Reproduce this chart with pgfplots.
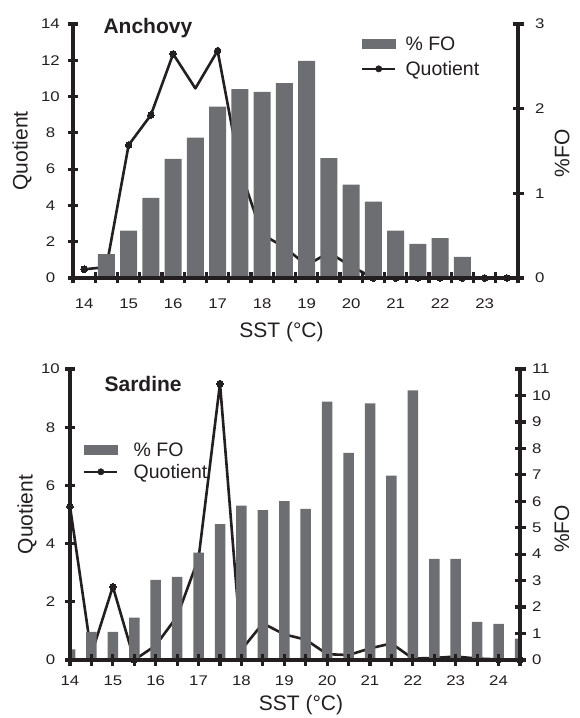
\documentclass[border=0pt]{standalone}
\usepackage{fontspec}
\setmainfont{Liberation Sans}
\newfontfamily\tickfont[FakeStretch=1.2]{Liberation Sans}
\usepackage{pgfplots}
\usepackage{pgfplotstable}
\pgfplotsset{compat=1.18}

\definecolor{bargray}{RGB}{109,110,113}
\definecolor{inkblack}{RGB}{35,31,32}

% SST class (deg C), frequency of occurrence (%), quotient
\pgfplotstableread{
sst  fo    quot
14.0 0.000 0.48
14.5 0.283 0.60
15.0 0.559 7.33
15.5 0.945 8.98
16.0 1.406 12.35
16.5 1.657 10.45
17.0 2.024 12.53
17.5 2.232 6.00
18.0 2.197 2.40
18.5 2.303 1.70
19.0 2.563 0.70
19.5 1.417 1.40
20.0 1.102 0.65
20.5 0.902 0.00
21.0 0.559 0.00
21.5 0.402 0.00
22.0 0.472 0.00
22.5 0.248 0.00
23.0 0.000 0.00
23.5 0.000 0.00
}\anchovy

\pgfplotstableread{
sst  fo    quot
14.0 0.40  5.28
14.5 1.06  0.20
15.0 1.06  2.52
15.5 1.60  0.00
16.0 3.03  0.50
16.5 3.14  1.50
17.0 4.06  3.50
17.5 5.14  9.50
18.0 5.84  0.35
18.5 5.67  1.26
19.0 6.01  0.88
19.5 5.71  0.70
20.0 9.77  0.20
20.5 7.83  0.17
21.0 9.70  0.40
21.5 6.97  0.57
22.0 10.19 0.05
22.5 3.82  0.07
23.0 3.82  0.12
23.5 1.44  0.05
24.0 1.37  0.02
24.5 0.81  0.00
}\sardine

\newcommand\labelfont{\fontsize{21}{25}\selectfont}

\pgfplotsset{
  panel/.style={
    scale only axis,
    axis line style={line width=3.5pt, inkblack, -},
    tick style={line width=3.2pt, inkblack},
    tick align=center,
    tick label style={font=\tickfont\fontsize{14}{16}\selectfont, text=inkblack},
    /pgf/number format/assume math mode=true,
  },
  quotline/.style={line width=2.6pt, inkblack, line join=round,
    mark=*, mark size=3.3pt, mark options={fill=inkblack, draw=inkblack, line width=0pt}},
  fobars/.style={ybar, bar shift=0pt, fill=bargray, draw=none,
    legend image code/.code={\fill[bargray] (0pt,-5pt) rectangle (34pt,5pt);}},
  quotlegend/.style={legend image code/.code={
    \draw[line width=2.6pt, inkblack] (0pt,0pt) -- (33pt,0pt);
    \fill[inkblack] (16.5pt,0pt) circle (3.2pt);}},
}

\begin{document}
\begin{tikzpicture}[x=1pt,y=1pt]
\path[use as bounding box] (0,0) rectangle (579,718);

% ---------- Anchovy ----------
\begin{axis}[panel, at={(73pt,440pt)}, anchor=south west,
  width=445pt, height=254pt, xmin=13.75, xmax=23.75, ymin=0, ymax=14,
  hide axis]
  \addplot[quotline, mark indices={1,3,4,5,7,14,15,16,17,18,19,20}]
    table[x=sst, y=quot] {\anchovy};
\end{axis}

\begin{axis}[panel, at={(73pt,440pt)}, anchor=south west,
  width=445pt, height=254pt, xmin=13.75, xmax=23.75, ymin=0, ymax=3,
  axis x line*=bottom, axis y line*=right, axis on top,
  major tick length=11pt,
  xtick={13.75,14.25,...,23.75}, xticklabels={},
  extra x ticks={14,15,...,23},
  extra x tick labels={14,15,16,17,18,19,20,21,22,23},
  extra x tick style={tick style={draw=none}},
  xticklabel style={yshift=-12pt},
  yticklabel style={xshift=8pt},
  ytick={0,1,2,3},
  xlabel={SST (°C)}, ylabel={\%FO},
  every axis x label/.style={at={(axis description cs:0.4685,-0.2126)}, anchor=center,
    font=\labelfont, text=inkblack},
  every axis y label/.style={at={(axis description cs:1.099,0.49)}, rotate=90, anchor=center,
    font=\labelfont, text=inkblack},
  title={Anchovy},
  every axis title/.style={at={(axis description cs:0.0607,0.984)}, anchor=west,
    font=\bfseries\fontsize{21}{25}\selectfont, text=inkblack},
  legend style={draw=none, fill=none, at={(axis description cs:0.647,0.957)},
    anchor=north west, inner sep=0pt, outer sep=0pt, row sep=5pt,
    font=\fontsize{19.5}{22}\selectfont, text=inkblack,
    /tikz/every odd column/.append style={column sep=7pt}},
  legend cell align=left]
  \addplot[fobars, bar width=17pt] table[x=sst, y=fo] {\anchovy};
  \addlegendentry{\% FO}
  \addlegendimage{quotlegend}
  \addlegendentry{Quotient}
\end{axis}

\begin{axis}[panel, at={(73pt,440pt)}, anchor=south west,
  width=445pt, height=254pt, xmin=13.75, xmax=23.75, ymin=0, ymax=14,
  axis y line*=left, axis x line=none, major tick length=9pt,
  yticklabel style={anchor=center, xshift=-18pt},
  ytick={0,2,...,14}, ylabel={Quotient},
  every axis y label/.style={at={(axis description cs:-0.1146,0.5)}, rotate=90, anchor=center,
    font=\labelfont, text=inkblack}]
\end{axis}

% ---------- Sardine ----------
\begin{axis}[panel, at={(70pt,58pt)}, anchor=south west,
  width=450pt, height=291pt, xmin=14, xmax=24.5, ymin=0, ymax=10,
  hide axis]
  \addplot[quotline, mark indices={1,3,4,8,17,18,19,20,21,22}]
    table[x=sst, y=quot] {\sardine};
\end{axis}

\begin{axis}[panel, at={(70pt,58pt)}, anchor=south west,
  width=450pt, height=291pt, xmin=14, xmax=24.5, ymin=0, ymax=11,
  axis x line*=bottom, axis y line*=right, axis on top,
  major tick length=11pt,
  xtick={14,14.5,...,24.5},
  xticklabels={14,,15,,16,,17,,18,,19,,20,,21,,22,,23,,24,},
  xticklabel style={yshift=-7pt},
  yticklabel style={xshift=3pt},
  ytick={0,1,...,11},
  xlabel={SST (°C)}, ylabel={\%FO},
  every axis x label/.style={at={(axis description cs:0.5133,-0.155)}, anchor=center,
    font=\labelfont, text=inkblack},
  every axis y label/.style={at={(axis description cs:1.093,0.45)}, rotate=90, anchor=center,
    font=\labelfont, text=inkblack},
  title={Sardine},
  every axis title/.style={at={(axis description cs:0.069,0.948)}, anchor=west,
    font=\bfseries\fontsize{21}{25}\selectfont, text=inkblack},
  legend style={draw=none, fill=none, at={(axis description cs:0.029,0.753)},
    anchor=north west, inner sep=0pt, outer sep=0pt, row sep=2pt,
    font=\fontsize{19.5}{22}\selectfont, text=inkblack,
    /tikz/every odd column/.append style={column sep=13pt}},
  legend cell align=left]
  \addplot[fobars, bar width=10.5pt] table[x=sst, y=fo] {\sardine};
  \addlegendentry{\% FO}
  \addlegendimage{quotlegend}
  \addlegendentry{Quotient}
\end{axis}

\begin{axis}[panel, at={(70pt,58pt)}, anchor=south west,
  width=450pt, height=291pt, xmin=14, xmax=24.5, ymin=0, ymax=10,
  axis y line*=left, axis x line=none, major tick length=9pt,
  yticklabel style={anchor=center, xshift=-15pt},
  ytick={0,2,...,10}, ylabel={Quotient},
  every axis y label/.style={at={(axis description cs:-0.0956,0.5)}, rotate=90, anchor=center,
    font=\labelfont, text=inkblack}]
\end{axis}
\end{tikzpicture}
\end{document}
